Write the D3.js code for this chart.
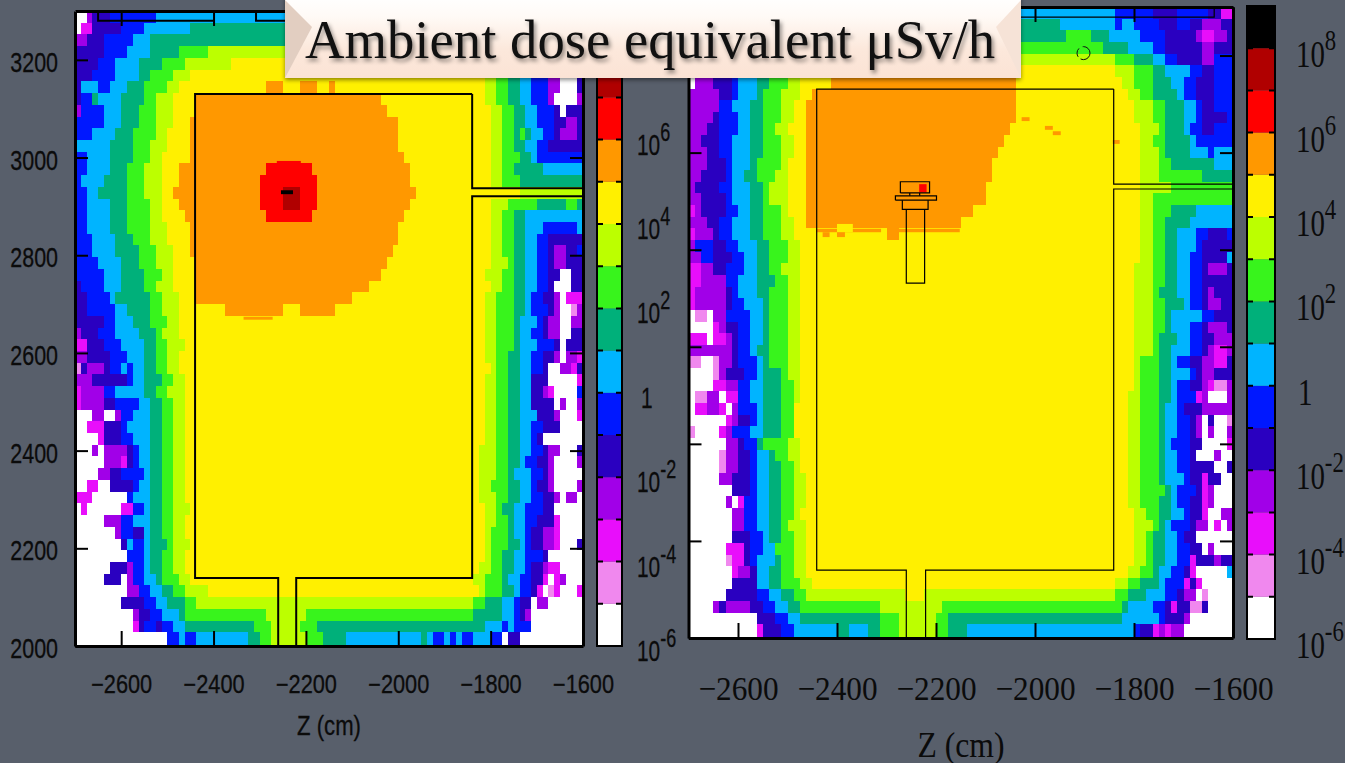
<!DOCTYPE html>
<html>
<head>
<meta charset="utf-8">
<title>Ambient dose equivalent</title>
<script src="https://cdn.jsdelivr.net/npm/d3@7"></script>
<style>
  body { margin: 0; background: #585f6b; overflow: hidden; }
  svg { display: block; }
</style>
</head>
<body>
<div id="chart"></div>
<script>
var svgWidth = 1345;
var svgHeight = 763;

// dose bins, one letter per decade: a = 1e-6 .. o = 1e8
var levelLetters = "abcdefghijklmno";
var levelColors = ["#ffffff", "#f088ee", "#e80efb", "#a100e8", "#2a00c0", "#0018ff", "#00b4ff", "#00b07a",
  "#38f41c", "#bcff00", "#fff000", "#ff9800", "#ff0000", "#b00000", "#000000"];

var zTicks = [-2600, -2400, -2200, -2000, -1800, -1600];
var yTicks = [2000, 2200, 2400, 2600, 2800, 3000, 3200];
// the left bar's top label sits behind the title banner, so it stops at 10^6
var leftBarExponents = [-6, -4, -2, 0, 2, 4, 6];
var rightBarExponents = [-6, -4, -2, 0, 2, 4, 6, 8];

// each row = 24 cm of height from the top, "level + first z bin" runs (z bin = 12.5 cm)
var leftRows = [
  "a0 d2 e3 f6 g14",
  "a0 c1 e3 f8 g12 h20",
  "d0 e2 f5 g10 h13",
  "e0 f5 g9 h13 i18 j23",
  "e0 f4 g7 h11 i15 j19 k27",
  "e0 f3 g7 h11 i13 j17 k20 j71 i73 h75 g77 f79 d82 a84 e87",
  "e0 g1 f4 g6 h9 i12 j16 k18 l33 k36 l39 k42 l44 k45 j71 i73 h75 g77 f79 d82 a84 e87",
  "e0 f1 h3 g4 h8 i12 j14 k17 l21 k53 j71 i73 h75 g77 f79 d82 a83 d87",
  "d0 f1 g5 h8 i11 j14 k17 l21 k54 j72 i74 h76 g78 f80 e83 a84 e85",
  "f0 g5 h8 i11 j14 k17 l20 k56 j72 i74 h76 g78 f80 e83 d85 e87",
  "f0 g3 h7 i10 j14 k16 l20 k56 j72 i74 h76 i77 h78 g79 f81 e83 d84 e87",
  "g0 h6 i10 j13 k16 l20 k56 j72 i74 h76 g78 f80 e82",
  "f0 g2 h6 i10 j13 k15 l20 k57 j72 i74 h77 g79 f80",
  "f0 g2 h6 i9 j12 k15 l18 m33 l41 k58 j72 i74 h76 g81",
  "f0 g1 h5 i9 j12 k15 l18 m32 l42 k58 j72 i74 h77",
  "f0 g2 h4 i9 j12 k15 l17 m32 n36 m39 l42 k59 j77",
  "f0 g2 h6 i9 j13 k15 l18 m32 n36 m39 l42 k58 j72 i75 h80 i85 h87",
  "f0 g2 h6 i9 j13 k15 l19 m33 l41 k57 j72 i74 h76 g78",
  "f0 g2 h6 i9 j13 k16 l20 k56 j72 i74 h76 g78 f81 g87",
  "f0 g3 h7 i10 j13 k16 l20 k56 j72 i74 h76 g78 f80 e82",
  "f0 g3 h7 i11 j14 k17 l20 k55 j72 i74 h76 g78 f80 e82 d83 e85 f87",
  "f0 g4 h8 i11 j14 k17 l21 k54 j72 i75 h76 g78 f80 e82 d83 e85",
  "f0 g5 h8 i12 j15 k17 l21 k53 j71 i74 h76 g78 f80 e82 a84 e86",
  "e0 f1 g5 h8 i12 j14 k17 l21 k51 j72 i74 h76 g78 f80 e82 a83 e86",
  "e0 f2 g6 h7 i13 j15 k18 l21 k48 j71 i73 h76 g78 f79 e81 d83 a84 c85",
  "e0 f2 g7 h9 i13 j15 k18 l26 k36 l39 k45 j71 i73 h76 g78 f79 e82 d83 a84 b86 d87",
  "e0 f5 g7 h10 i13 j16 k18 j71 i73 h76 g77 f80 e81 d82 a84 d86",
  "d0 e1 f4 g7 h11 i14 j15 k18 j71 i73 h76 g77 f79 e81 d82 a84 e86",
  "c0 e2 f5 g8 h12 i14 j16 k19 j71 i73 h76 g77 f80 e83 a84 e85",
  "d0 e2 f6 g9 h12 i14 j16 k18 j71 i73 h75 g77 f79 e81 d83 a84 d85 c87",
  "b0 e1 d2 e5 f6 g8 f9 g10 h12 i14 j16 k18 j72 i73 h75 g77 f79 e81 a82 d84 c86 e87",
  "d0 e3 f9 g10 h12 i15 j17 k19 j71 i73 h75 g77 e79 a82 c87",
  "c0 d1 f5 g7 h12 i14 j16 k19 j71 i73 h75 g77 e79 d81 c82 a83 f87",
  "c0 d1 e5 f7 g11 h13 i15 j17 k19 j71 i73 h75 g77 e79 a83 d84 a85 d87",
  "a0 d3 a5 d7 f8 g10 h13 i15 j17 k19 j71 i73 h75 g77 e80 d83 a84 c87",
  "a0 c2 e5 f8 g9 h13 i15 j17 k19 j71 i73 h75 g77 f79 e81 a84",
  "a0 c4 e5 f8 g10 h13 i15 j17 k19 j71 i73 h75 g77 f79 e80 a81",
  "a0 d3 a4 d5 e9 f10 g11 h13 i15 j17 k19 j70 i73 h75 g77 f79 e81 d82 a84 e87",
  "a0 d5 c8 e9 f10 g11 h13 i15 j17 k19 j70 i73 h75 g77 f78 e80 d82 a83 d87",
  "a0 d4 e6 f8 g12 h13 i15 j17 k19 j70 i73 h75 g76 f79 e81 d82 a83",
  "a0 c2 a4 e6 f10 g11 h13 i15 j17 k19 j70 i72 h75 g77 f79 e80 d82 a83 d87",
  "c0 a3 f9 g10 h13 i15 j17 k19 j70 i73 h75 g77 f79 e81 d83 a84 d85 a87",
  "a0 c1 a2 c8 f10 g12 h13 i15 j17 k20 j71 i73 h74 g76 f78 e81 a83",
  "a0 d5 f8 g10 h13 i15 j17 k19 j71 i73 h75 g76 f78 e80 c83 a84",
  "a0 d7 f8 e10 g12 h13 i15 j17 k19 j71 i72 h75 g76 f78 e79 d81 c83 a84",
  "a0 e8 g9 f10 g12 h13 i16 j17 k20 j71 i72 h75 g77 f78 e79 d81 c83 a84 e87",
  "a0 f9 g12 h13 i15 j17 k19 j71 i72 h74 g76 f78 e81 a82",
  "a0 e6 d9 f10 g12 h13 i15 j17 k19 j70 i72 h74 g76 f78 e79 d81 c82 a84",
  "a0 e5 a8 d9 f10 g12 h14 i15 j18 k20 j69 i71 h74 g75 f77 e79 c81 a82 c83 d84 a85",
  "a0 d9 f11 g13 h15 i17 j19 k23 j70 i71 h74 g76 f77 e79 c80 a81 b82 c83 a84 c87",
  "a0 e8 f12 g14 h16 i19 j21 i69 h71 g74 f76 e77 a79 d80 a82",
  "a0 d10 e11 f13 g15 h18 i19 j33 i40 h69 g74 f76 e77 d78 a79",
  "a0 c10 e11 f12 e14 f15 g17 h19 i31 j34 i39 h42 g71 f74 g75 f76 a79",
  "a0 f16 g18 f19 g21 h30 i32 j34 i40 h43 g47 h60 g61 f62 g64 f65 g66 f67 g69 f72 a74 e75 a77"
];

var rightRows = [
  "g0 f69 e75 f79 e84 c86",
  "h0 g60 f69 g70 f72 e76 f79 e81 d83 e86",
  "h0 i61 h65 g68 f73 e77 d82 c83 d85 e87",
  "i0 h67 g71 f75 e77 d83 e85",
  "j0 i69 h72 g75 f77 e79 d83 f85",
  "k0 j69 i72 h75 g77 f81 e83 f85",
  "a0 d1 e4 f7 g8 h11 i13 j16 k18 l23 k53 j70 i72 h75 g78 f80 e82 f85",
  "d0 e5 f7 g8 h11 i12 j15 k18 l20 k53 j71 i73 h75 g79 f80 e82 f85",
  "d0 f5 g7 h10 i12 j15 k17 l19 k53 j72 i75 h77 g80 f82 e83 f85",
  "d0 e4 f5 g8 h10 i12 j15 k17 l19 k53 j72 i75 h77 g80 f82 e83 f87",
  "d0 e3 f5 g8 h10 i12 j14 k16 l19 k52 j73 i76 h77 g80 f81 e83 f85",
  "d0 e2 f5 g7 h10 i12 j15 k17 l19 k51 j73 i75 h77 g81 f82",
  "d0 e3 f5 g7 h10 i12 j15 k17 l19 k50 j73 i76 h77 g81 f84 g85",
  "d0 e3 f6 g7 h10 i11 j15 k16 l19 k49 j73 i76 h78 g85",
  "d0 e2 f6 g7 h9 i11 j14 k16 l19 k49 j73 i76 h83",
  "d0 e1 f5 g7 h10 i12 j13 k16 l19 k48 j73 i78",
  "d0 e2 f6 g7 h10 i12 j13 k16 l19 k48 j73 i75",
  "c0 d1 e2 f6 g8 h10 i12 j15 k16 l19 k46 j73 i75 h78 g82",
  "d0 e3 f5 g7 h10 i12 j15 k17 l19 k44 j73 i75 h77 g81",
  "c0 d1 e4 f5 g7 h10 i12 j15 k17 l32 k34 j73 i75 h77 g79 f82 e84 f87",
  "d0 f1 e4 f6 g8 h11 i13 j16 k18 j73 i75 h77 g79 f82 e83",
  "d0 f2 e4 f7 g9 h11 i13 j16 k18 j73 i75 h77 g79 f81 e83 g87",
  "c0 d2 e4 f6 g9 h11 i13 j15 k18 j72 i75 h77 g79 f81 e83 d84 e87",
  "c0 d2 e6 f6 g8 h11 i14 j16 k18 j72 i75 h77 g79 f81 e83",
  "c0 d1 e6 f7 g8 h11 i13 j16 k18 j72 i75 h76 g79 f81 e83 d84 e85",
  "c0 d1 e6 f7 g9 h12 i13 j16 k18 j72 i75 h77 g80 f81 e83 d84 e86",
  "a0 b1 a3 d4 f6 g10 h12 i13 j16 k18 j72 i75 h77 g78 f83 e85",
  "a0 c4 d5 e6 f8 g10 h12 i13 j16 k18 j72 i75 h77 g78 f81 e83 d84 e87",
  "c0 a3 c4 d6 e7 f8 g10 h12 i13 j16 k18 j72 i75 h76 g79 f81 e83 d85",
  "d0 e7 f8 g10 h11 i13 j16 k18 j72 i75 h76 g78 f81 e83 d84 c85 d87",
  "b0 a2 b4 d5 e7 f8 g11 h12 i13 j16 k18 j72 i73 h76 g78 f79 e81 d83 c85 e87",
  "a0 b4 d5 e6 f9 g11 h12 i15 j16 k18 j72 i73 h76 g78 f81 e82 d83 e85",
  "a0 c4 d6 f8 g10 h12 i15 j17 k18 j72 i73 h76 g78 f79 e81 d83 c84 b85 d87",
  "a0 b1 d3 a5 c6 f8 g10 h12 i15 j17 k18 j71 i73 h76 g78 f79 c82 d83 a84 d87",
  "a0 c1 d3 c5 a6 d7 f8 g11 h12 i15 k17 j71 i73 h76 g77 f79 e80 d83",
  "a0 c6 d7 e8 f10 g11 h12 i15 k17 j71 i73 h76 g77 f79 e81 d82 a83 e84 a85 b87",
  "b0 a1 c5 d6 f7 g10 h12 i15 k17 j71 i73 h76 g77 f79 e81 d82 a83 d84 a85 d87",
  "a0 d6 e8 f9 h11 i12 j16 k18 j71 i73 h76 g77 f78 e81 a83 c87",
  "a0 b5 d6 e8 f10 g11 h13 i14 j16 k18 j71 i73 h76 g77 f79 e81 a82 d85 a86",
  "a0 b5 d6 e8 f10 g11 h13 i15 j17 k18 j71 i73 h76 g77 f79 e81 a85 e87",
  "a0 d5 e7 f10 g11 h13 i15 j17 k19 j71 i73 h76 g77 f80 e81 c83 e84 a86",
  "a0 e7 f10 g11 h13 i15 j17 k19 j71 i73 h77 g78 f79 e82 c83 d84 a85",
  "a0 d6 a7 c8 f9 g11 h13 i15 j17 k19 j71 i73 h76 g78 f79 e81 c83 d84 a85",
  "a0 d7 f9 g11 h13 i15 j17 k18 j72 i74 h76 g78 f80 e81 c83 a84 d86",
  "a0 d7 f9 g11 h13 i15 j16 k19 j72 i75 h76 g77 f78 e81 d82 a84 c85 a86 d87",
  "a0 e7 f10 g12 h13 i15 j17 k19 j72 i74 h75 g77 f79 e80 a82",
  "a0 c6 e9 f10 g12 i14 j17 k19 j72 i74 h75 g77 f79 e81 a83 d84 a85",
  "a0 b6 c7 e9 f10 g11 h14 i15 j17 k19 j72 i74 h75 g77 f79 c81 e82 d85 e86",
  "a0 c7 d8 e10 g11 h13 i15 j17 k19 j71 i73 h75 g76 f78 e80 c81 a82 g87",
  "a0 e7 g11 h13 i15 j18 k20 j69 i71 h73 g76 f77 c80 e81 c82 a83",
  "a0 e6 f11 g13 h15 i17 j19 k35 j38 i69 h71 g74 f77 e79 d80 a82 b83 a84",
  "a0 d4 e5 d6 e10 f12 g14 h16 i18 j31 i41 h70 g71 f75 e77 c78 e79 b81 e83 a84",
  "a0 e11 f14 g16 h18 i31 j34 i40 h42 g70 f76 e77 d80 a81",
  "a0 c11 e12 f15 g17 h24 g26 h29 i31 j34 i40 h42 g45 f72 e73 c75 d76 c77 d78 a80"
];

// small spots thinner than a row: [z0, z1, y0, y1, level letter]
var leftSpots = [
  [-2263, -2211, 2987, 2993, "m"],
  [-2254, -2228, 2925, 2933, "o"],
  [-2335, -2272, 2668, 2674, "l"]
];
var rightSpots = [
  [-2234, -2219, 2918, 2935, "m"],
  [-2441, -2311, 2836, 2843, "l"],
  [-2279, -2152, 2836, 2843, "l"],
  [-2400, -2368, 2836, 2853, "k"],
  [-2429, -2415, 2826, 2836, "l"],
  [-2400, -2384, 2826, 2836, "l"],
  [-2027, -2011, 3065, 3073, "l"],
  [-1980, -1964, 3047, 3055, "l"],
  [-1964, -1948, 3036, 3044, "l"],
  [-1843, -1829, 3018, 3026, "l"]
];

// chamber walls in cm
var leftWalls = [
  [[-1840, 3130], [-1840, 2937], [-1600, 2937]],
  [[-1600, 2921], [-1840, 2921], [-1840, 2139], [-2221, 2139], [-2221, 2000]],
  [[-2260, 2000], [-2260, 2139], [-2440, 2139], [-2440, 3130], [-1840, 3130]],
  [[-2650, 3300], [-2650, 3280], [-2400, 3280]],
  [[-2308, 3300], [-2308, 3280], [-1638, 3280], [-1638, 3300]]
];
var rightWalls = [
  [[-1841, 3131], [-1841, 2935], [-1600, 2935]],
  [[-1600, 2925], [-1841, 2925], [-1841, 2140], [-2221, 2140], [-2221, 2000]],
  [[-2260, 2000], [-2260, 2140], [-2441, 2140], [-2441, 3131], [-1841, 3131]],
  [[-2308, 3300], [-2308, 3279], [-1638, 3279], [-1638, 3300]],
  // target assembly
  [[-2272, 2917], [-2272, 2940], [-2213, 2940], [-2213, 2917], [-2272, 2917]],
  [[-2282, 2902], [-2282, 2911], [-2199, 2911], [-2199, 2902], [-2282, 2902]],
  [[-2268, 2902], [-2268, 2883], [-2216, 2883], [-2216, 2902]],
  [[-2260, 2883], [-2260, 2731], [-2223, 2731], [-2223, 2883]],
  [[-2253, 2911], [-2253, 2917]],
  [[-2233, 2911], [-2233, 2917]]
];

var titleText = "Ambient dose equivalent μSv/h";
var zLabel = "Z (cm)";

var svg = d3.select("#chart")
  .append("svg")
  .attr("width", svgWidth)
  .attr("height", svgHeight);

var defs = svg.append("defs");

var faceGradient = defs.append("linearGradient")
  .attr("id", "titleFace")
  .attr("x1", 0).attr("y1", 0).attr("x2", 0).attr("y2", 1);
faceGradient.append("stop").attr("offset", "0%").attr("stop-color", "#ffffff");
faceGradient.append("stop").attr("offset", "25%").attr("stop-color", "#fffaf6");
faceGradient.append("stop").attr("offset", "65%").attr("stop-color", "#fce8db");
faceGradient.append("stop").attr("offset", "100%").attr("stop-color", "#fbe3d5");

function drawPanel(cfg) {
  var g = svg.append("g");

  var x = d3.scaleLinear().domain([-2700, -1600]).range([cfg.left, cfg.right]);
  var y = d3.scaleLinear().domain([2000, 3300]).range([cfg.bottom, cfg.top]);
  var color = d3.scaleOrdinal().domain(levelLetters.split("")).range(levelColors);

  // runs of each row
  var runs = [];
  cfg.rows.forEach(function(row, r) {
    var parts = row.split(" ");
    parts.forEach(function(p, i) {
      var next = i + 1 < parts.length ? +parts[i + 1].slice(1) : 88;
      runs.push({ level: p[0], z0: -2700 + 12.5 * +p.slice(1), z1: -2700 + 12.5 * next,
        y1: 3300 - 24 * r, y0: 3300 - 24 * (r + 1) });
    });
  });

  g.append("g").selectAll("rect")
    .data(runs)
    .enter()
    .append("rect")
    .attr("x", d => x(d.z0))
    .attr("y", d => y(d.y1))
    .attr("width", d => x(d.z1) - x(d.z0) + 0.5)
    .attr("height", d => y(d.y0) - y(d.y1) + 0.5)
    .attr("fill", d => color(d.level))
    .attr("shape-rendering", "crispEdges");

  g.append("g").selectAll("rect")
    .data(cfg.spots)
    .enter()
    .append("rect")
    .attr("x", d => x(d[0]))
    .attr("y", d => y(d[3]))
    .attr("width", d => x(d[1]) - x(d[0]))
    .attr("height", d => y(d[2]) - y(d[3]))
    .attr("fill", d => color(d[4]));

  var line = d3.line().x(d => x(d[0])).y(d => y(d[1]));

  g.append("g").selectAll("path")
    .data(cfg.walls)
    .enter()
    .append("path")
    .attr("d", line)
    .attr("fill", "none")
    .attr("stroke", "#000")
    .attr("stroke-width", cfg.wallWidth);

  if (cfg.ring) {
    g.append("circle")
      .attr("cx", x(cfg.ring[0]))
      .attr("cy", y(cfg.ring[1]))
      .attr("r", cfg.ring[2])
      .attr("fill", "none")
      .attr("stroke", "#111")
      .attr("stroke-dasharray", "13 3 9 4");
  }

  // axes, ticks point inwards on all four sides
  var bottomAxis = d3.axisBottom(x).tickValues(zTicks).tickSizeInner(-15).tickSizeOuter(0).tickPadding(cfg.padX).tickFormat(d3.format("d"));
  var topAxis = d3.axisTop(x).tickValues(zTicks).tickSizeInner(-15).tickSizeOuter(0).tickFormat("");
  var leftAxis = d3.axisLeft(y).tickValues(yTicks).tickSizeInner(-13).tickSizeOuter(0).tickFormat(cfg.yLabels ? d3.format("d") : "");
  var rightAxis = d3.axisRight(y).tickValues(yTicks).tickSizeInner(-13).tickSizeOuter(0).tickFormat("");

  var xAxisG = g.append("g").attr("transform", `translate(0, ${cfg.bottom})`).call(bottomAxis);
  var topG = g.append("g").attr("transform", `translate(0, ${cfg.top})`).call(topAxis);
  var yAxisG = g.append("g").attr("transform", `translate(${cfg.left}, 0)`).call(leftAxis);
  var rightG = g.append("g").attr("transform", `translate(${cfg.right}, 0)`).call(rightAxis);

  [xAxisG, topG, yAxisG, rightG].forEach(function(a) {
    a.selectAll("line").attr("stroke", "#000").attr("stroke-width", 2);
    a.selectAll("path").attr("stroke", "#000").attr("stroke-width", 3);
    a.selectAll("text")
      .attr("fill", "#0b0b0b")
      .attr("stroke", "#0b0b0b")
      .attr("stroke-width", cfg.textStroke)
      .style("font-family", cfg.font);
  });

  xAxisG.selectAll("text")
    .style("font-size", cfg.tickSize + "px")
    .attr("transform", `scale(${cfg.tickStretch}, 1)`);

  // narrow upright figures on the height axis, right edge stays 17 px off the frame
  yAxisG.selectAll("text")
    .style("font-size", "27.5px")
    .attr("x", -17 / 0.78)
    .attr("dy", "0.42em")
    .attr("transform", "scale(0.78, 1)");

  g.append("text")
    .attr("transform", `translate(${cfg.labelX}, ${cfg.labelY}) scale(${cfg.labelStretch}, 1)`)
    .attr("text-anchor", "middle")
    .attr("fill", "#0b0b0b")
    .attr("stroke", "#0b0b0b")
    .attr("stroke-width", cfg.textStroke)
    .style("font-family", cfg.font)
    .style("font-size", cfg.labelSize + "px")
    .text(zLabel);

  // colour bar
  var bar = d3.scaleLog().domain([1e-6, 1e9]).range([cfg.bottomBar, cfg.bottomBar - 15 * 42.2]);
  var cells = levelColors.map(function(c, i) {
    return { color: c, low: Math.pow(10, i - 6), high: Math.pow(10, i - 5) };
  });

  g.append("g").selectAll("rect")
    .data(cells)
    .enter()
    .append("rect")
    .attr("x", cfg.barLeft)
    .attr("y", d => bar(d.high))
    .attr("width", cfg.barRight - cfg.barLeft)
    .attr("height", d => bar(d.low) - bar(d.high))
    .attr("fill", d => d.color);

  g.append("g").selectAll("path")
    .data(cells.slice(1))
    .enter()
    .append("path")
    .attr("d", d => `M${cfg.barLeft},${bar(d.low)}h6M${cfg.barRight - 6},${bar(d.low)}h6`)
    .attr("stroke", "#000")
    .attr("stroke-width", 2);

  g.append("rect")
    .attr("x", cfg.barLeft)
    .attr("y", bar(1e9))
    .attr("width", cfg.barRight - cfg.barLeft)
    .attr("height", bar(1e-6) - bar(1e9))
    .attr("fill", "none")
    .attr("stroke", "#000")
    .attr("stroke-width", 2);

  var labels = g.append("g").selectAll("text")
    .data(cfg.barLabels)
    .enter()
    .append("text")
    .attr("transform", d => `translate(${d === 0 ? cfg.barText + cfg.oneShift : cfg.barText}, ${bar(Math.pow(10, d)) + cfg.barDy}) scale(${cfg.barStretch}, 1)`)
    .attr("fill", "#0b0b0b")
    .attr("stroke", "#0b0b0b")
    .attr("stroke-width", cfg.textStroke)
    .style("font-family", cfg.font)
    .style("font-size", cfg.barSize + "px");

  labels.append("tspan").text(d => d === 0 ? "1" : "10");
  labels.append("tspan")
    .attr("dy", -cfg.supDy)
    .style("font-size", cfg.supSize + "px")
    .text(d => d === 0 ? "" : d);
}

drawPanel({
  rows: leftRows, spots: leftSpots, walls: leftWalls, wallWidth: 2, yLabels: true, barLabels: leftBarExponents,
  left: 75, right: 583, top: 11, bottom: 646,
  font: "'Liberation Sans', sans-serif", textStroke: 0.3, tickSize: 25, tickStretch: 0.87, padX: 29,
  labelX: 329, labelY: 735, labelSize: 28, labelStretch: 0.79,
  barLeft: 597, barRight: 622, bottomBar: 646,
  barText: 637, oneShift: 4, barDy: 15, barSize: 29, barStretch: 0.72, supSize: 25, supDy: 14
});

drawPanel({
  rows: rightRows, spots: rightSpots, walls: rightWalls, wallWidth: 1.2, yLabels: false, barLabels: rightBarExponents, ring: [-1902, 3205, 6.5],
  left: 688.5, right: 1233, top: 7, bottom: 638,
  font: "'Liberation Serif', serif", textStroke: 0, tickSize: 34, tickStretch: 0.92, padX: 38,
  labelX: 961, labelY: 757, labelSize: 36, labelStretch: 0.88,
  barLeft: 1247, barRight: 1275, bottomBar: 639,
  barText: 1296, oneShift: 2, barDy: 19, barSize: 38, barStretch: 0.76, supSize: 30, supDy: 17
});

// title banner
var banner = svg.append("g");
banner.append("rect")
  .attr("x", 285).attr("y", -4).attr("width", 736).attr("height", 82)
  .attr("fill", "url(#titleFace)")
  .style("filter", "drop-shadow(0px 2px 2px rgba(0,0,0,.45))");
banner.append("path").attr("d", "M285,0L312,27L285,78Z").attr("fill", "#e2cec1");
banner.append("path").attr("d", "M1021,0L996,27L1021,78Z").attr("fill", "#f6e3d7");
banner.append("text")
  .attr("x", 650)
  .attr("y", 58)
  .attr("text-anchor", "middle")
  .attr("textLength", 690)
  .attr("lengthAdjust", "spacingAndGlyphs")
  .attr("fill", "#111")
  .style("font-family", "'Liberation Serif', serif")
  .style("font-size", "54px")
  .style("filter", "drop-shadow(2px 3px 2px rgba(0,0,0,.45))")
  .text(titleText);
</script>
</body>
</html>
